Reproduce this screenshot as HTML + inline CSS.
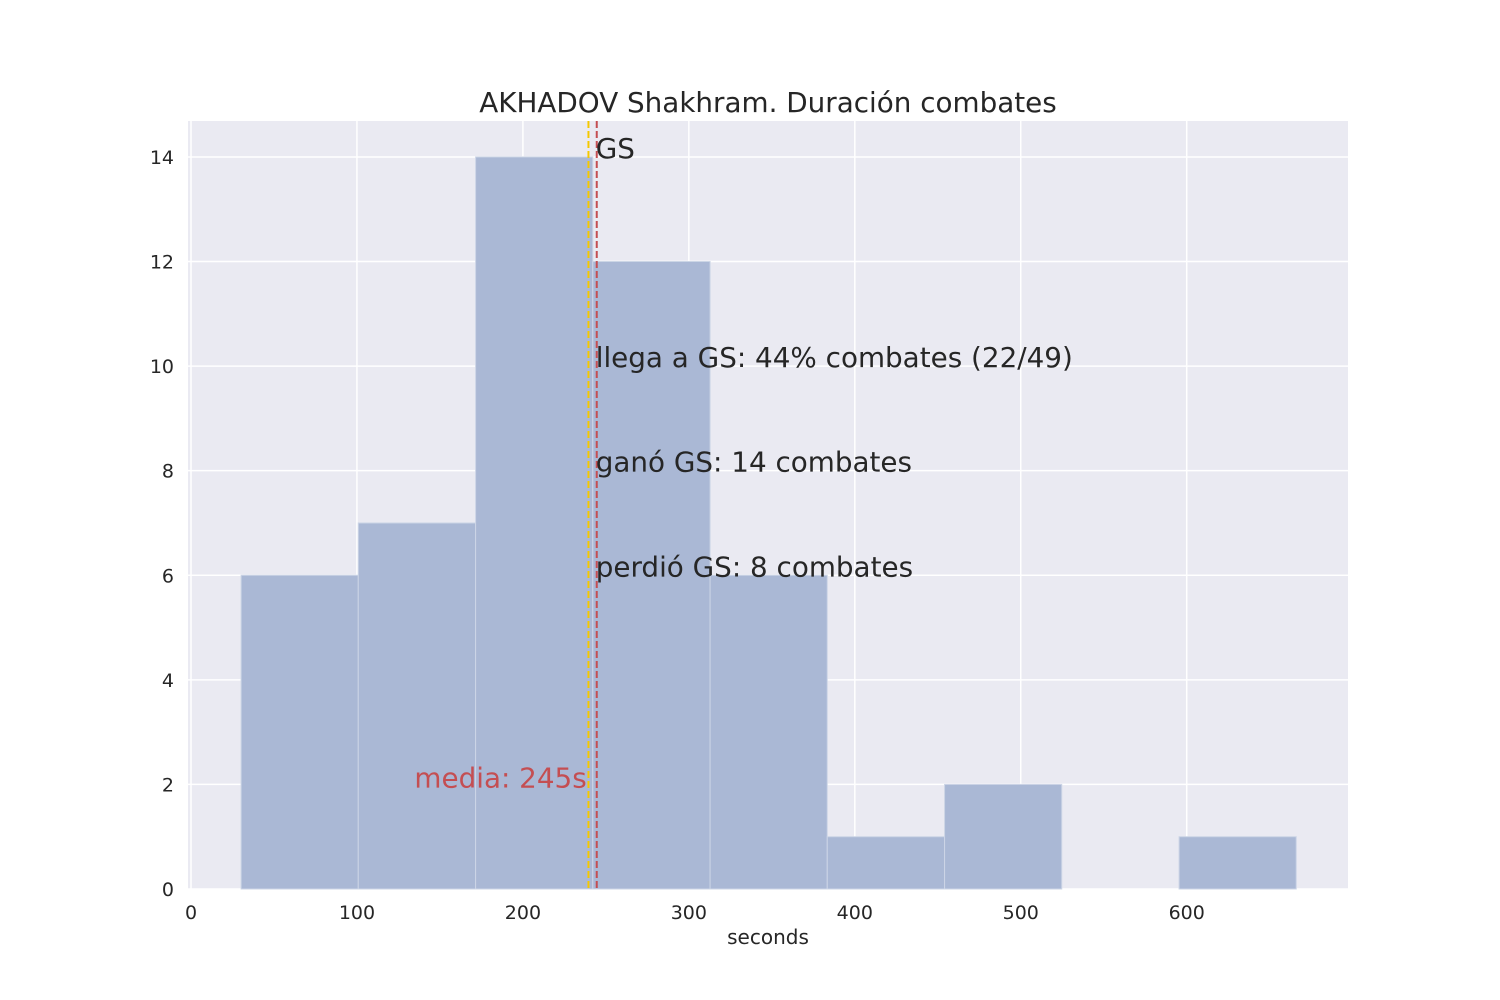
<!DOCTYPE html>
<html><head><meta charset="utf-8"><style>
body{margin:0;background:#fff;}
svg{display:block;font-family:"DejaVu Sans","Liberation Sans",sans-serif;}
</style></head><body>
<svg id="chart" width="1500" height="1000">
<rect x="0" y="0" width="1500" height="1000" fill="#fff"/>
<rect x="188" y="121" width="1160" height="768" fill="#eaeaf2"/>
<g id="grid"></g><g id="bars"></g><g id="lines"></g><g id="ticks"></g>
<text x="768" y="112" text-anchor="middle" font-size="27.8" fill="#262626">AKHADOV Shakhram. Duración combates</text>
<text x="768" y="944" text-anchor="middle" font-size="20" fill="#262626">seconds</text>
<g id="notes"></g>
</svg>
<script>
const binEdges=[30.2,100.8,171.5,242.1,312.8,383.4,454.1,524.7,595.4,666.0];
const counts=[6,7,14,12,6,1,2,0,1];
const xTicks=[0,100,200,300,400,500,600];
const yTicks=[0,2,4,6,8,10,12,14];
const gsLine=239.5;
const meanValue=244.5;
const annotations=[{y:14,t:"GS"},{y:10,t:"llega a GS: 44% combates (22/49)"},{y:8,t:"ganó GS: 14 combates"},{y:6,t:"perdió GS: 8 combates"}];
const NS="http://www.w3.org/2000/svg";
const X=v=>191+v*1.6595, Y=v=>889-v*52.29;
function mk(tag,attrs,parent,text){const e=document.createElementNS(NS,tag);for(const k in attrs)e.setAttribute(k,attrs[k]);if(text!==undefined)e.textContent=text;document.getElementById(parent).appendChild(e);return e;}
xTicks.forEach(v=>{
 const l=mk('line',{x1:X(v),x2:X(v),y1:121,y2:889,stroke:'#fff','stroke-width':1.5},'grid');
 
 
 const t=mk('text',{x:X(v),y:919,'text-anchor':'middle','font-size':19,fill:'#262626'},'ticks',v);
 
 
});
yTicks.forEach(v=>{
 const l=mk('line',{x1:188,x2:1348,y1:Y(v),y2:Y(v),stroke:'#fff','stroke-width':1.5},'grid');
 
 
 const t=mk('text',{x:174,y:Y(v)+7,'text-anchor':'end','font-size':19,fill:'#262626'},'ticks',v);
 
 
});
counts.forEach((c,i)=>{
 if(c<=0)return;
 const x0=X(binEdges[i]),x1=X(binEdges[i+1]);
 const r=mk('rect',{x:x0,y:Y(c),width:x1-x0,height:Y(0)-Y(c),fill:'#aab8d5',stroke:'#ccd5e6','stroke-width':1},'bars');
 
 
});
const g=mk('line',{x1:X(gsLine),x2:X(gsLine),y1:121,y2:889,stroke:'#f5c800','stroke-width':2,'stroke-dasharray':'7,3'},'lines');


const m=mk('line',{x1:X(meanValue),x2:X(meanValue),y1:121,y2:889,stroke:'#c44e52','stroke-width':2,'stroke-dasharray':'7,3'},'lines');


annotations.forEach(a=>{
 const t=mk('text',{x:X(meanValue)-1,y:Y(a.y)+1,'font-size':27.8,fill:'#262626'},'notes',a.t);
 
 
});
const mt=mk('text',{x:X(meanValue)-10,y:Y(2)+3,'text-anchor':'end','font-size':27.8,fill:'#c44e52'},'notes','media: '+Math.round(meanValue)+'s');


</script>
</body></html>
